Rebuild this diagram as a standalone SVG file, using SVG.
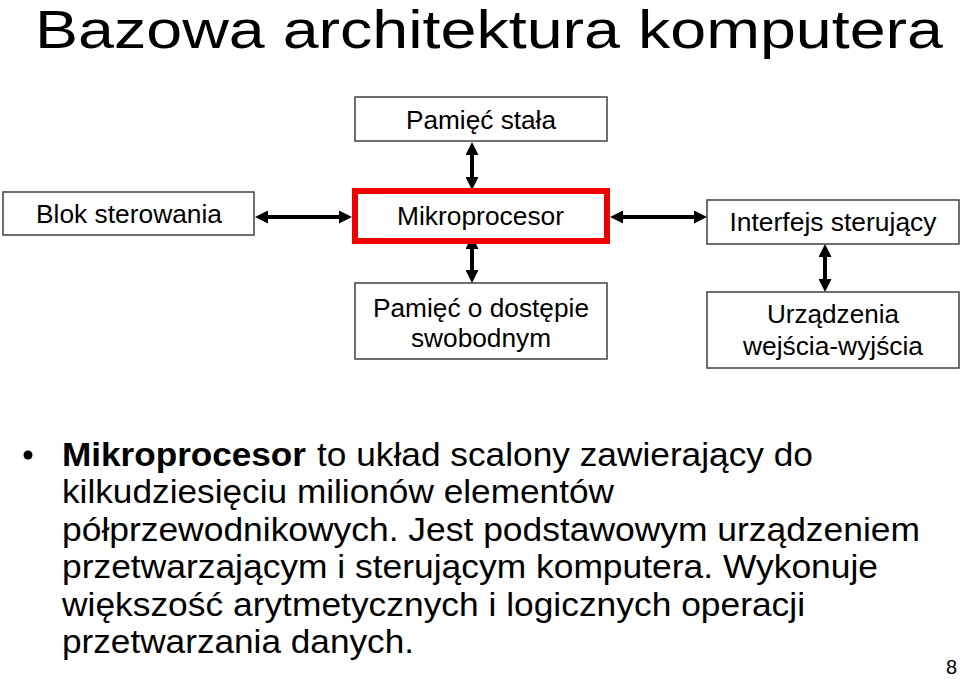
<svg xmlns="http://www.w3.org/2000/svg" width="960" height="679" viewBox="0 0 960 679">
<style>
.box{fill:#fff;stroke:#404040;stroke-width:1.5}
.cpu{fill:#fff;stroke:#f00000;stroke-width:6}
.lbl{font-family:"Liberation Sans",Arial,sans-serif;font-size:25px;fill:#000;text-anchor:middle}
.body{font-family:"Liberation Sans",Arial,sans-serif;font-size:33px;fill:#000}
.title{font-family:"Liberation Sans",Arial,sans-serif;font-size:54px;fill:#000}
.conn{stroke:#000;stroke-width:4;fill:none;marker-start:url(#ah);marker-end:url(#ah)}
</style>
<defs>
<marker id="ah" viewBox="0 0 13 13" markerWidth="13" markerHeight="13" refX="3" refY="6.5" orient="auto-start-reverse" markerUnits="userSpaceOnUse">
<path d="M0,0 L13,6.5 L0,13 z" fill="#000"/>
</marker>
</defs>
<rect width="960" height="679" fill="#fff"/>
<text class="title" x="35" y="48" textLength="908" lengthAdjust="spacingAndGlyphs">Bazowa architektura komputera</text>

<g id="connectors">
<line class="conn" x1="265" y1="217" x2="342" y2="217"/>
<line class="conn" x1="620" y1="217" x2="697" y2="217"/>
<line class="conn" x1="472" y1="152" x2="472" y2="180"/>
<line class="conn" x1="472" y1="246" x2="472" y2="273"/>
<line class="conn" x1="825" y1="254" x2="825" y2="282"/>
</g>

<g id="pamiec-stala">
<rect class="box" x="355" y="97" width="252" height="44"/>
<text class="lbl" x="481" y="129" textLength="150" lengthAdjust="spacingAndGlyphs">Pamięć stała</text>
</g>
<g id="blok-sterowania">
<rect class="box" x="3" y="192" width="251" height="43"/>
<text class="lbl" x="129" y="223" textLength="186" lengthAdjust="spacingAndGlyphs">Blok sterowania</text>
</g>
<g id="mikroprocesor">
<rect class="cpu" x="355" y="191" width="252" height="50"/>
<text class="lbl" x="480.5" y="225" textLength="167" lengthAdjust="spacingAndGlyphs">Mikroprocesor</text>
</g>
<g id="interfejs">
<rect class="box" x="707" y="200" width="252" height="44"/>
<text class="lbl" x="833" y="231" textLength="207" lengthAdjust="spacingAndGlyphs">Interfejs sterujący</text>
</g>
<g id="pamiec-ram">
<rect class="box" x="355" y="283" width="252" height="76"/>
<text class="lbl" x="481" y="317" textLength="216" lengthAdjust="spacingAndGlyphs">Pamięć o dostępie</text>
<text class="lbl" x="481" y="347" textLength="140" lengthAdjust="spacingAndGlyphs">swobodnym</text>
</g>
<g id="urzadzenia">
<rect class="box" x="707" y="292" width="252" height="76"/>
<text class="lbl" x="833" y="323" textLength="132" lengthAdjust="spacingAndGlyphs">Urządzenia</text>
<text class="lbl" x="833" y="355" textLength="180" lengthAdjust="spacingAndGlyphs">wejścia-wyjścia</text>
</g>

<circle cx="28" cy="455" r="4.5" fill="#000"/>
<text class="body" x="62" y="465.5" font-weight="bold" textLength="244" lengthAdjust="spacingAndGlyphs">Mikroprocesor</text>
<text class="body" x="317" y="465.5" textLength="496" lengthAdjust="spacingAndGlyphs">to układ scalony zawierający do</text>
<text class="body" x="62" y="503" textLength="552" lengthAdjust="spacingAndGlyphs">kilkudziesięciu milionów elementów</text>
<text class="body" x="62" y="540.5" textLength="858" lengthAdjust="spacingAndGlyphs">półprzewodnikowych. Jest podstawowym urządzeniem</text>
<text class="body" x="62" y="578" textLength="816" lengthAdjust="spacingAndGlyphs">przetwarzającym i sterującym komputera. Wykonuje</text>
<text class="body" x="62" y="615.5" textLength="743" lengthAdjust="spacingAndGlyphs">większość arytmetycznych i logicznych operacji</text>
<text class="body" x="62" y="653" textLength="352" lengthAdjust="spacingAndGlyphs">przetwarzania danych.</text>
<text x="946" y="674" font-family="Liberation Sans,Arial,sans-serif" font-size="20" fill="#000">8</text>
</svg>
